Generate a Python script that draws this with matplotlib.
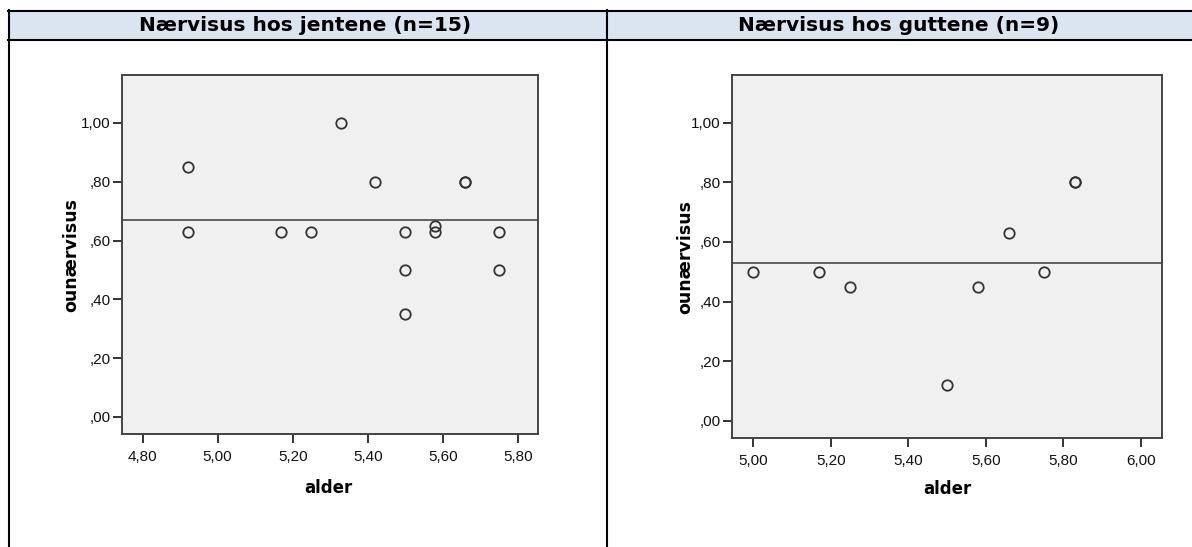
import numpy as np
import matplotlib
matplotlib.use("Agg")
import matplotlib.pyplot as plt
from matplotlib.ticker import FuncFormatter

# ---- data: alder vs. ounærvisus, jenter og gutter ----
titles = ["Nærvisus hos jentene (n=15)", "Nærvisus hos guttene (n=9)"]

alder_jenter = [4.92, 4.92, 5.17, 5.25, 5.33, 5.42, 5.50, 5.50, 5.50,
                5.58, 5.58, 5.66, 5.66, 5.75, 5.75]
visus_jenter = [0.85, 0.63, 0.63, 0.63, 1.00, 0.80, 0.63, 0.50, 0.35,
                0.65, 0.63, 0.80, 0.80, 0.63, 0.50]

alder_gutter = [5.00, 5.17, 5.25, 5.50, 5.58, 5.66, 5.75, 5.83, 5.83]
visus_gutter = [0.50, 0.50, 0.45, 0.12, 0.45, 0.63, 0.50, 0.80, 0.80]

xticks_jenter = [4.8, 5.0, 5.2, 5.4, 5.6, 5.8]
xticks_gutter = [5.0, 5.2, 5.4, 5.6, 5.8, 6.0]
yticks = [0.0, 0.2, 0.4, 0.6, 0.8, 1.0]

W, H = 1192, 547
fig = plt.figure(figsize=(W / 100, H / 100), dpi=100)

# tabellramme med overskriftsrad
bg = fig.add_axes([0, 0, 1, 1])
bg.set_xlim(0, W)
bg.set_ylim(H, 0)
bg.axis("off")
bg.fill_between([8.5, W], 10.5, 39.5, color="#dbe5f1", lw=0)
lw_tab = 1.5
bg.plot([7.5, W], [10.5, 10.5], color="black", lw=lw_tab)
bg.plot([7.5, W], [39.5, 39.5], color="black", lw=lw_tab)
bg.plot([8.5, 8.5], [10, H], color="black", lw=lw_tab)
bg.plot([606.5, 606.5], [10, H], color="black", lw=lw_tab)
bg.text(305, 25.5, titles[0], ha="center", va="center", fontsize=14.5,
        fontweight="bold", family="DejaVu Sans")
bg.text(899, 25.5, titles[1], ha="center", va="center", fontsize=14.5,
        fontweight="bold", family="DejaVu Sans")


def komma(v, pos):
    s = f"{v:.2f}".replace(".", ",")
    if s.startswith("0"):
        s = s[1:]
    return s


def spredning(rect, x, y, xticks, xlim, ylim, xlab_pos, ylab_pos):
    ax = fig.add_axes(rect)
    ax.set_facecolor("#f0f0f0")
    ax.axhline(np.mean(y), color="#555555", lw=1.3, zorder=2)
    ax.plot(x, y, "o", ms=7.5, mfc="none", mec="#333333", mew=1.3, zorder=3)
    ax.set_xlim(*xlim)
    ax.set_ylim(*ylim)
    ax.set_xticks(xticks)
    ax.set_yticks(yticks)
    ax.xaxis.set_major_formatter(FuncFormatter(komma))
    ax.yaxis.set_major_formatter(FuncFormatter(komma))
    for sp in ax.spines.values():
        sp.set_color("#444444")
        sp.set_linewidth(1.4)
    ax.tick_params(axis="both", direction="out", length=6.5, width=1.4,
                   color="#333333", labelsize=11, labelcolor="#111111")
    ax.tick_params(axis="x", pad=5)
    ax.tick_params(axis="y", pad=1.5)
    for lab in ax.get_xticklabels() + ax.get_yticklabels():
        lab.set_family("Liberation Sans")
    ax.set_xlabel("alder", fontsize=12, fontweight="bold", family="DejaVu Sans")
    ax.set_ylabel("ounærvisus", fontsize=12.5, fontweight="bold",
                  family="DejaVu Sans")
    ax.xaxis.set_label_coords(*xlab_pos)
    ax.yaxis.set_label_coords(*ylab_pos)
    return ax


spredning([122 / W, 1 - 434 / H, 416 / W, 359 / H],
          alder_jenter, visus_jenter, xticks_jenter,
          (4.745, 5.854), (-0.058, 1.163), (0.495, -0.125), (-0.10, 0.5))
spredning([731.7 / W, 1 - 438.3 / H, 430.6 / W, 363.3 / H],
          alder_gutter, visus_gutter, xticks_gutter,
          (4.944, 6.055), (-0.059, 1.16), (0.5, -0.115), (-0.086, 0.5))

fig.savefig("out.png", dpi=100)
